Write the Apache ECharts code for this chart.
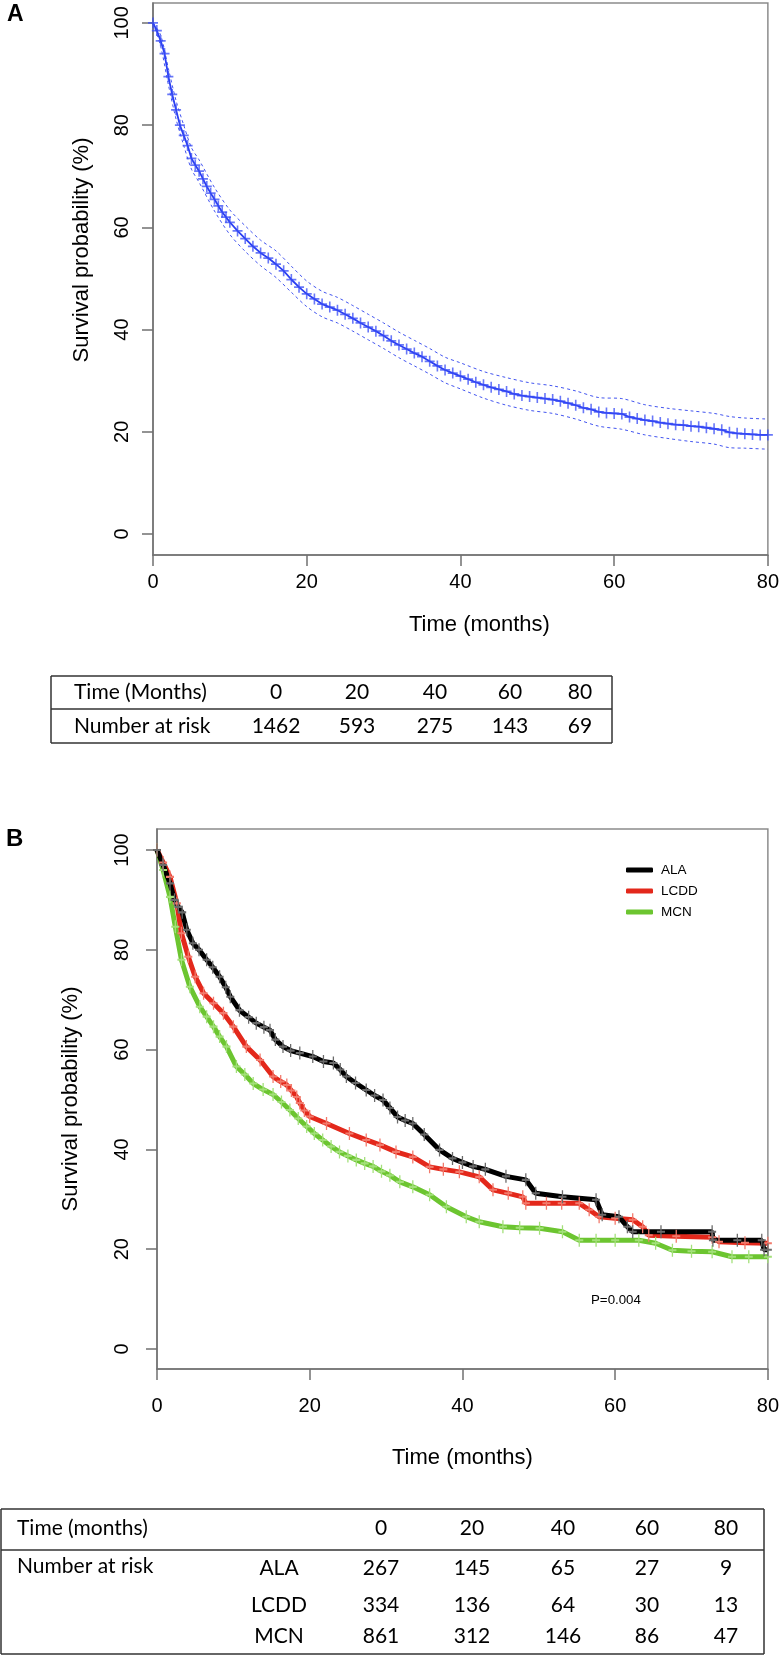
<!DOCTYPE html>
<html>
<head>
<meta charset="utf-8">
<script src="https://cdn.jsdelivr.net/npm/echarts@6/dist/echarts.min.js"></script>
<style>
  html, body { margin: 0; padding: 0; background: #fff; }
  #chart { width: 782px; height: 1657px; }
</style>
</head>
<body>
<div id="chart"></div>
<script>
// ---- panel A: overall survival (%) ----
const aTime = [0, 0.5, 1, 1.5, 2, 2.5, 3, 3.5, 4, 4.5, 5, 5.5, 6, 6.5, 7, 7.5, 8, 8.5, 9, 9.5, 10, 11, 12, 13, 14, 15, 16, 17, 18, 19, 20,
  21, 22, 23, 24, 25, 26, 27, 28, 29, 30, 31, 32, 33, 34, 35, 36, 37, 38, 39, 40, 41, 42, 43, 44, 45, 46, 47, 48, 49, 50,
  51, 52, 53, 54, 55, 56, 57, 58, 59, 60, 61, 62, 63, 64, 65, 66, 67, 68, 69, 70, 71, 72, 73, 74, 75, 76, 77, 78, 79, 80];
const aSurv = [100, 98.5, 96.5, 94, 89.5, 86, 83, 80, 78, 76, 73.5, 72.2, 71, 69.5, 68, 66.7, 65.5, 64.2, 63, 62, 61, 59.3, 57.8, 56.3, 55, 54, 52.8, 51.5, 49.8, 48.3, 47,
  46, 45, 44.4, 43.8, 43, 42.2, 41.3, 40.5, 39.7, 38.8, 37.8, 37, 36.2, 35.4, 34.7, 33.8, 32.9, 32.1, 31.5, 30.9, 30.3, 29.7, 29.2, 28.7, 28.3, 27.9, 27.4, 27.1, 26.9, 26.7,
  26.5, 26.3, 26.0, 25.6, 25.2, 24.7, 24.4, 23.9, 23.7, 23.6, 23.5, 22.9, 22.6, 22.3, 22.1, 21.8, 21.6, 21.4, 21.3, 21.1, 21.0, 20.8, 20.6, 20.4, 19.9, 19.7, 19.6, 19.5, 19.4, 19.4];
// 95% confidence band
const aCiTime = [0, 1, 2, 3, 4, 5, 6, 8, 10, 12, 14, 16, 18, 20, 22, 24, 26, 28, 30, 32, 34, 36, 38, 40, 43, 46, 49, 52, 55, 58, 61, 64, 67, 70, 73, 75, 77, 80];
const aCiLow = [100, 95.4, 87.9, 81.2, 76, 71.4, 68.8, 63.2, 58.6, 55.3, 52.5, 50.2, 47.3, 44.5, 42.5, 41.3, 39.7, 38, 36.3, 34.5, 32.9, 31.3, 29.6, 28.4, 26.6, 25.2, 24.2, 23.6, 22.5, 21.1, 20.5, 19.4, 18.7, 18.1, 17.6, 16.9, 16.8, 16.6];
const aCiHigh = [100, 97.6, 91.1, 84.8, 80, 75.6, 73.2, 67.8, 63.4, 60.3, 57.5, 55.4, 52.4, 49.5, 47.5, 46.3, 44.7, 43, 41.3, 39.5, 37.9, 36.3, 34.6, 33.5, 31.8, 30.6, 29.6, 29.0, 28, 26.7, 26.5, 25.3, 24.6, 24.1, 23.6, 23.0, 22.7, 22.5];
const riskTimes = [0, 20, 40, 60, 80];
const riskAll = [1462, 593, 275, 143, 69];

// ---- panel B: survival by group ----
const groups = ['ALA', 'LCDD', 'MCN'];
const alaTime = [0, 0.8, 1.7, 2.3, 2.8, 3.3, 3.9, 4.7, 5.5, 6.5, 7.3, 8.2, 9, 9.6, 10.8, 12, 13, 14, 14.8, 15.5, 16.5, 17.5, 18.7, 20.4, 21.8, 23.1, 24,
  24.8, 26, 27.4, 28.5, 29.6, 30.5, 31.5, 32.5, 33.5, 35, 37, 38.7, 40, 41.4, 43, 45.7, 48.3, 49.6, 53.1, 57.5, 58.3, 60.5, 61.6, 62.3, 66, 72.7, 72.8, 76, 79.2, 79.5, 80];
const alaSurv = [100, 97, 93.3, 90, 88.6, 87.5, 84, 81.3, 80, 78, 76.5, 74.6, 72.5, 70.6, 67.9, 66.5, 65.3, 64.5, 63.9, 62, 60.6, 59.8, 59.3, 58.6, 57.6, 57.3, 56,
  54.6, 53.3, 51.9, 50.8, 49.9, 48.3, 46.5, 45.8, 45.2, 43, 39.9, 38.2, 37.4, 36.6, 36, 34.6, 33.9, 31.2, 30.5, 29.9, 26.9, 26.5, 24.5, 23.5, 23.5, 23.5, 21.8, 21.8, 21.8, 19.9, 19.9];
const lcddTime = [0, 0.8, 1.7, 2.6, 3.2, 4.1, 5, 6.1, 7.4, 8.7, 10, 11.7, 13.5, 15.2, 16.2, 17, 17.6, 18.3, 18.7, 19.3, 20, 22.2, 25.2, 27.4, 29.2, 31.3, 33.5, 35.7,
  37.5, 39.6, 42.2, 44, 46, 47.9, 48.3, 51, 53, 55.3, 56.6, 57.9, 60, 62.3, 63.6, 64.4, 68, 72.7, 73.6, 77, 80];
const lcddSurv = [100, 97.5, 94.6, 89.3, 83.3, 78.6, 74.6, 71.3, 69.3, 67.3, 64.6, 60.6, 57.9, 54.6, 53.6, 52.9, 51.8, 50.5, 49.3, 47.8, 46.6, 45.2, 43.2, 41.9, 40.9, 39.5, 38.5, 36.5,
  36, 35.5, 34.5, 31.9, 31.2, 30.5, 29.2, 29.2, 29.2, 29.2, 27.9, 26.5, 26.2, 25.9, 24.5, 22.8, 22.6, 22.4, 21.5, 21.3, 21.2];
const mcnTime = [0, 0.8, 1.7, 2.4, 3.2, 4.3, 5.6, 6.5, 7.4, 8.2, 9.1, 10.4, 11.5, 12.6, 13.9, 15.2, 16.3, 17.4, 18.5, 19.6, 20.6, 21.7, 22.8, 23.9, 25, 26.1, 27.2, 28.3,
  29.4, 30.5, 31.8, 33.5, 35.7, 37.9, 40.5, 42.2, 45.3, 47.5, 50.1, 53.1, 55.3, 57.5, 60, 63.1, 65.3, 67.5, 70, 72.7, 75.3, 77.5, 80];
const mcnSurv = [100, 96, 90.6, 84.6, 78, 72.6, 68.6, 66.6, 64.6, 62.6, 60.6, 56.6, 55, 53.2, 52, 51, 49.5, 47.9, 46.2, 44.6, 43.2, 41.9, 40.6, 39.5, 38.7, 37.9, 37.2, 36.6,
  35.6, 34.8, 33.5, 32.5, 30.9, 28.5, 26.5, 25.5, 24.5, 24.3, 24.2, 23.5, 21.8, 21.8, 21.8, 21.8, 21.2, 19.8, 19.6, 19.5, 18.5, 18.5, 18.5];
const riskALA = [267, 145, 65, 27, 9];
const riskLCDD = [334, 136, 64, 30, 13];
const riskMCN = [861, 312, 146, 86, 47];
const pValue = 'P=0.004';

const yTicks = [0, 20, 40, 60, 80, 100];
const SANS = '"Liberation Sans", Arial, Helvetica, sans-serif';
const TABLE_FONT = 'Lato, "Open Sans", sans-serif';
const PLUS = 'path://M4.2,0H5.8V4.2H10V5.8H5.8V10H4.2V5.8H0V4.2H4.2Z';

const zip = (xs, ys) => xs.map((x, i) => [x, ys[i]]);

const chart = echarts.init(document.getElementById('chart'), null, {renderer: 'canvas'});

function xAxisOf(grid, labelMargin, nameGap, namePad) {
  return {
    gridIndex: grid,
    type: 'value',
    min: 0,
    max: 80,
    interval: 20,
    name: 'Time (months)',
    nameLocation: 'middle',
    nameGap: nameGap,
    nameTextStyle: {fontSize: 22, fontFamily: SANS, color: '#000', padding: namePad},
    axisLine: {show: true, onZero: false, lineStyle: {color: '#707070', width: 1.5}},
    axisTick: {show: true, inside: false, length: 11, lineStyle: {color: '#707070', width: 1.5}},
    axisLabel: {fontSize: 20, fontFamily: SANS, color: '#000', margin: labelMargin},
    splitLine: {show: false}
  };
}

function yAxisOf(grid, min, max, labelMargin, nameGap, namePad) {
  return {
    gridIndex: grid,
    type: 'value',
    min: min,
    max: max,
    name: 'Survival probability (%)',
    nameLocation: 'middle',
    nameGap: nameGap,
    nameTextStyle: {fontSize: 22, fontFamily: SANS, color: '#000', padding: namePad},
    axisLine: {show: true, onZero: false, lineStyle: {color: '#707070', width: 1.5}},
    axisTick: {show: true, inside: false, length: 11, customValues: yTicks, lineStyle: {color: '#707070', width: 1.5}},
    axisLabel: {customValues: yTicks, rotate: 90, fontSize: 20, fontFamily: SANS, color: '#000', margin: labelMargin},
    splitLine: {show: false}
  };
}

// 表格（number at risk）用 graphic 画
function txt(text, x, y, align) {
  return {
    type: 'text', x: x, y: y, silent: true,
    style: {text: String(text), font: '21px ' + TABLE_FONT, fill: '#000',
      textAlign: align || 'center', align: align || 'center', textVerticalAlign: 'middle', verticalAlign: 'middle'}
  };
}
function hline(x1, x2, y) {
  return {type: 'line', silent: true, shape: {x1: x1, y1: y, x2: x2, y2: y}, style: {stroke: '#333', lineWidth: 1.5}};
}
function vline(x, y1, y2) {
  return {type: 'line', silent: true, shape: {x1: x, y1: y1, x2: x, y2: y2}, style: {stroke: '#333', lineWidth: 1.5}};
}

const colA = [276, 357, 435, 510, 580];
const colB = [381, 472, 563, 647, 726];
const rowB = [1568, 1605, 1636];
const graphics = [
  {type: 'text', x: 7, y: 15, style: {text: 'A', font: 'bold 23px ' + SANS, fill: '#000', textVerticalAlign: 'middle', verticalAlign: 'middle'}},
  {type: 'text', x: 6, y: 839, style: {text: 'B', font: 'bold 24px ' + SANS, fill: '#000', textVerticalAlign: 'middle', verticalAlign: 'middle'}},
  {type: 'text', x: 591, y: 1300, style: {text: pValue, font: '13.3px ' + SANS, fill: '#000', textVerticalAlign: 'middle', verticalAlign: 'middle'}},
  // table A
  hline(51, 612, 676), hline(51, 612, 709), hline(51, 612, 743), vline(51, 676, 743), vline(612, 676, 743),
  txt('Time (Months)', 74, 692, 'left'),
  txt('Number at risk', 74, 726, 'left'),
  ...riskTimes.map((t, i) => txt(t, colA[i], 692)),
  ...riskAll.map((n, i) => txt(n, colA[i], 726)),
  // table B
  hline(1, 764, 1509), hline(1, 764, 1550), hline(1, 764, 1654), vline(1, 1509, 1654), vline(764, 1509, 1654),
  txt('Time (months)', 17, 1528, 'left'),
  txt('Number at risk', 17, 1566, 'left'),
  ...riskTimes.map((t, i) => txt(t, colB[i], 1528)),
  ...[riskALA, riskLCDD, riskMCN].flatMap((row, r) => [
    txt(groups[r], 279, rowB[r]),
    ...row.map((n, i) => txt(n, colB[i], rowB[r]))
  ])
];

function groupSeries(name, times, surv, color, markColor) {
  return {
    name: name,
    type: 'line',
    xAxisIndex: 1,
    yAxisIndex: 1,
    data: zip(times, surv),
    showSymbol: true,
    showAllSymbol: true,
    symbol: PLUS,
    symbolSize: [8, 13],
    itemStyle: {color: markColor},
    lineStyle: {color: color, width: 5},
    emphasis: {disabled: true}
  };
}

const option = {
  animation: false,
  backgroundColor: '#fff',
  grid: [
    {left: 153, top: 3, width: 615, height: 552, show: true, borderColor: '#8c8c8c', borderWidth: 1.5, backgroundColor: 'transparent'},
    {left: 157, top: 829, width: 612, height: 540, show: true, borderColor: '#8c8c8c', borderWidth: 1.5, backgroundColor: 'transparent'}
  ],
  xAxis: [
    xAxisOf(0, 17, 59, [0, 0, 0, 38]),
    xAxisOf(1, 27, 78, 0)
  ],
  yAxis: [
    yAxisOf(0, -4.1, 103.9, 21, 60, [0, 0, 0, 58]),
    yAxisOf(1, -4.0, 104.2, 25, 75, 0)
  ],
  legend: {
    data: groups.map((g, i) => ({name: g, icon: 'roundRect', itemStyle: {color: ['#000000', '#e3281b', '#6cc530'][i]}})),
    orient: 'vertical',
    left: 626,
    top: 863,
    padding: 0,
    itemWidth: 27,
    itemHeight: 5,
    itemGap: 7,
    selectedMode: false,
    textStyle: {fontSize: 13.5, fontFamily: SANS, color: '#000', padding: [0, 0, 0, 3]}
  },
  graphic: graphics,
  series: [
    {
      name: 'lower95',
      type: 'line',
      data: zip(aCiTime, aCiLow),
      showSymbol: false,
      smooth: 0.3,
      lineStyle: {color: '#4355f0', width: 1, type: [3, 3]},
      emphasis: {disabled: true}
    },
    {
      name: 'upper95',
      type: 'line',
      data: zip(aCiTime, aCiHigh),
      showSymbol: false,
      smooth: 0.3,
      lineStyle: {color: '#4355f0', width: 1, type: [3, 3]},
      emphasis: {disabled: true}
    },
    {
      name: 'All patients',
      type: 'line',
      data: zip(aTime, aSurv),
      showSymbol: true,
      showAllSymbol: true,
      symbol: PLUS,
      symbolSize: [10, 11],
      itemStyle: {color: 'rgba(55, 75, 245, 0.75)'},
      lineStyle: {color: '#2a3ef2', width: 1.8},
      emphasis: {disabled: true}
    },
    groupSeries('MCN', mcnTime, mcnSurv, '#6cc530', '#a3e07a'),
    groupSeries('LCDD', lcddTime, lcddSurv, '#e3281b', '#f27a6c'),
    groupSeries('ALA', alaTime, alaSurv, '#000000', '#6a6a6a')
  ]
};

chart.setOption(option);
</script>
</body>
</html>
